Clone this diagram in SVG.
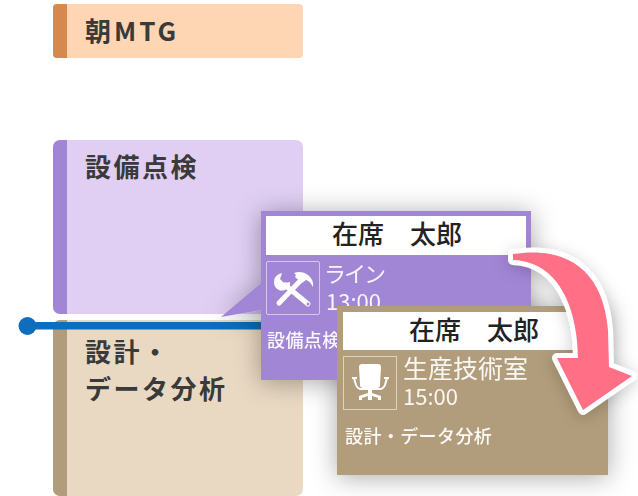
<svg xmlns="http://www.w3.org/2000/svg" width="638" height="496" viewBox="0 0 638 496">
<defs>
<style>
text{font-family:"Noto Sans CJK JP","Noto Sans",sans-serif}
.t{font-size:26px;font-weight:700;fill:#3a3a3a;letter-spacing:2.500px}
.h{font-size:26px;font-weight:500;fill:#222;text-anchor:middle}
.n{font-size:25px;fill:#fff;font-weight:400;opacity:.92}
.d{font-size:22px;fill:#fff;font-weight:400;opacity:.92}
.s{font-size:18px;fill:#fff;font-weight:500;letter-spacing:.4px;opacity:.95}
.box{fill:none;stroke:#fff;stroke-opacity:.55;stroke-width:1}
</style>
<filter id="sh" x="-30%" y="-30%" width="160%" height="160%"><feDropShadow dx="0" dy="2" stdDeviation="13" flood-color="#000" flood-opacity=".34"/></filter>
<filter id="sh2" x="-30%" y="-30%" width="160%" height="160%"><feDropShadow dx="0" dy="3" stdDeviation="8" flood-color="#000" flood-opacity=".2"/></filter>
<clipPath id="c1"><rect x="53" y="4" width="250" height="54" rx="4"/></clipPath>
<clipPath id="c2"><rect x="53" y="140" width="250" height="174" rx="7"/></clipPath>
<clipPath id="c3"><rect x="53" y="320" width="250" height="176" rx="7"/></clipPath>
<clipPath id="outP"><path clip-rule="evenodd" d="M0 0H638V496H0ZM261 211H531V380H261Z"/></clipPath>
</defs>
<rect width="638" height="496" fill="#fff"/>
<g id="node-morning">
<g clip-path="url(#c1)"><rect x="53" y="4" width="250" height="54" fill="#ffd6b3"/><rect x="53" y="4" width="14" height="54" fill="#d6894e"/></g>
<text class="t" x="85" y="41" style="letter-spacing:3px">朝MTG</text>
</g>
<g id="node-inspection">
<g clip-path="url(#c2)"><rect x="53" y="140" width="250" height="174" fill="#e0cff3"/><rect x="53" y="140" width="14" height="174" fill="#a286d6"/></g>
<text class="t" x="85" y="177">設備点検</text>
</g>
<g id="node-design">
<g clip-path="url(#c3)"><rect x="53" y="320" width="250" height="176" fill="#e9d9c3"/><rect x="53" y="320" width="14" height="176" fill="#b19d7b"/></g>
<text class="t" x="85" y="362">設計・</text>
<text class="t" x="85" y="399">データ分析</text>
</g>
<g id="connectors">
<rect x="27" y="322" width="240" height="7.500" fill="#0f6dbd"/>
<circle cx="27.500" cy="326" r="9" fill="#0f6dbd"/>
</g>
<g id="card-line">
<path d="M261 211H531V380H261V310L221 317L261 283Z" fill="#a286d6" filter="url(#sh)"/>
<rect x="266" y="216" width="260" height="39" fill="#fff"/>
<text class="h" x="397" y="244">在席　太郎</text>
<rect class="box" x="266.500" y="261.500" width="53" height="53" rx="1.500"/>
<g fill="#fff" stroke="#fff">
<path d="M279 303L302 279" stroke-width="5" stroke-linecap="round" fill="none"/>
<path d="M282 273l-2 6 4 4 6-1q1 6-5 8-4 1-6 0-5-2-5-8 0-7 8-9Z" stroke="none"/>
<path d="M285 285L308 304" stroke-width="5" stroke-linecap="round" fill="none"/>
<path d="M294 273q8-3 14 2t5 12q-3-6-7-7l-4 3-7-6 1-2Z" stroke="none"/>
<circle cx="308" cy="304" r="1.500" fill="#a286d6" stroke="none"/>
</g>
<text class="n" x="324" y="282" style="font-size:22px;letter-spacing:-2px">ライン</text>
<text class="d" x="326" y="310">13:00</text>
<text class="s" x="267" y="347">設備点検</text>
</g>
<g id="card-room">
<g clip-path="url(#outP)"><rect x="337" y="306" width="271" height="169" fill="#b19d7b" filter="url(#sh)"/></g>
<rect x="337" y="306" width="271" height="169" fill="#b19d7b"/>
<rect x="343" y="312" width="260" height="38" fill="#fff"/>
<text class="h" x="474" y="340">在席　太郎</text>
<rect class="box" x="343.500" y="356.500" width="53" height="53"/>
<g fill="#fff" stroke="#fff">
<path d="M359 367q0-3 3-3h16q3 0 3 3l-1 18q0 3-3 3h-14q-3 0-3-3Z" stroke="none"/>
<path d="M354 378l2 7q1 3 4 4h21q3-1 4-4l2-7" fill="none" stroke-width="2"/>
<path d="M352 378h5M384 378h5" fill="none" stroke-width="2"/>
<path d="M368 389h4v4l9 3v4h-3v-2l-6-2v4h-4v-4l-6 2v2h-3v-4l9-3Z" stroke="none"/>
</g>
<text class="n" x="403" y="378">生産技術室</text>
<text class="d" x="403" y="405">15:00</text>
<text class="s" x="345" y="443">設計・データ分析</text>
</g>
<g id="arrow">
<path d="M513 254C565 246 603 268 608 330L609 367L632 376L583 410L557 358L578 358C578 320 565 262 513 260Z" fill="#ff6f87" stroke="#fff" stroke-width="10" stroke-linejoin="round" paint-order="stroke" filter="url(#sh2)"/>
</g>
</svg>
